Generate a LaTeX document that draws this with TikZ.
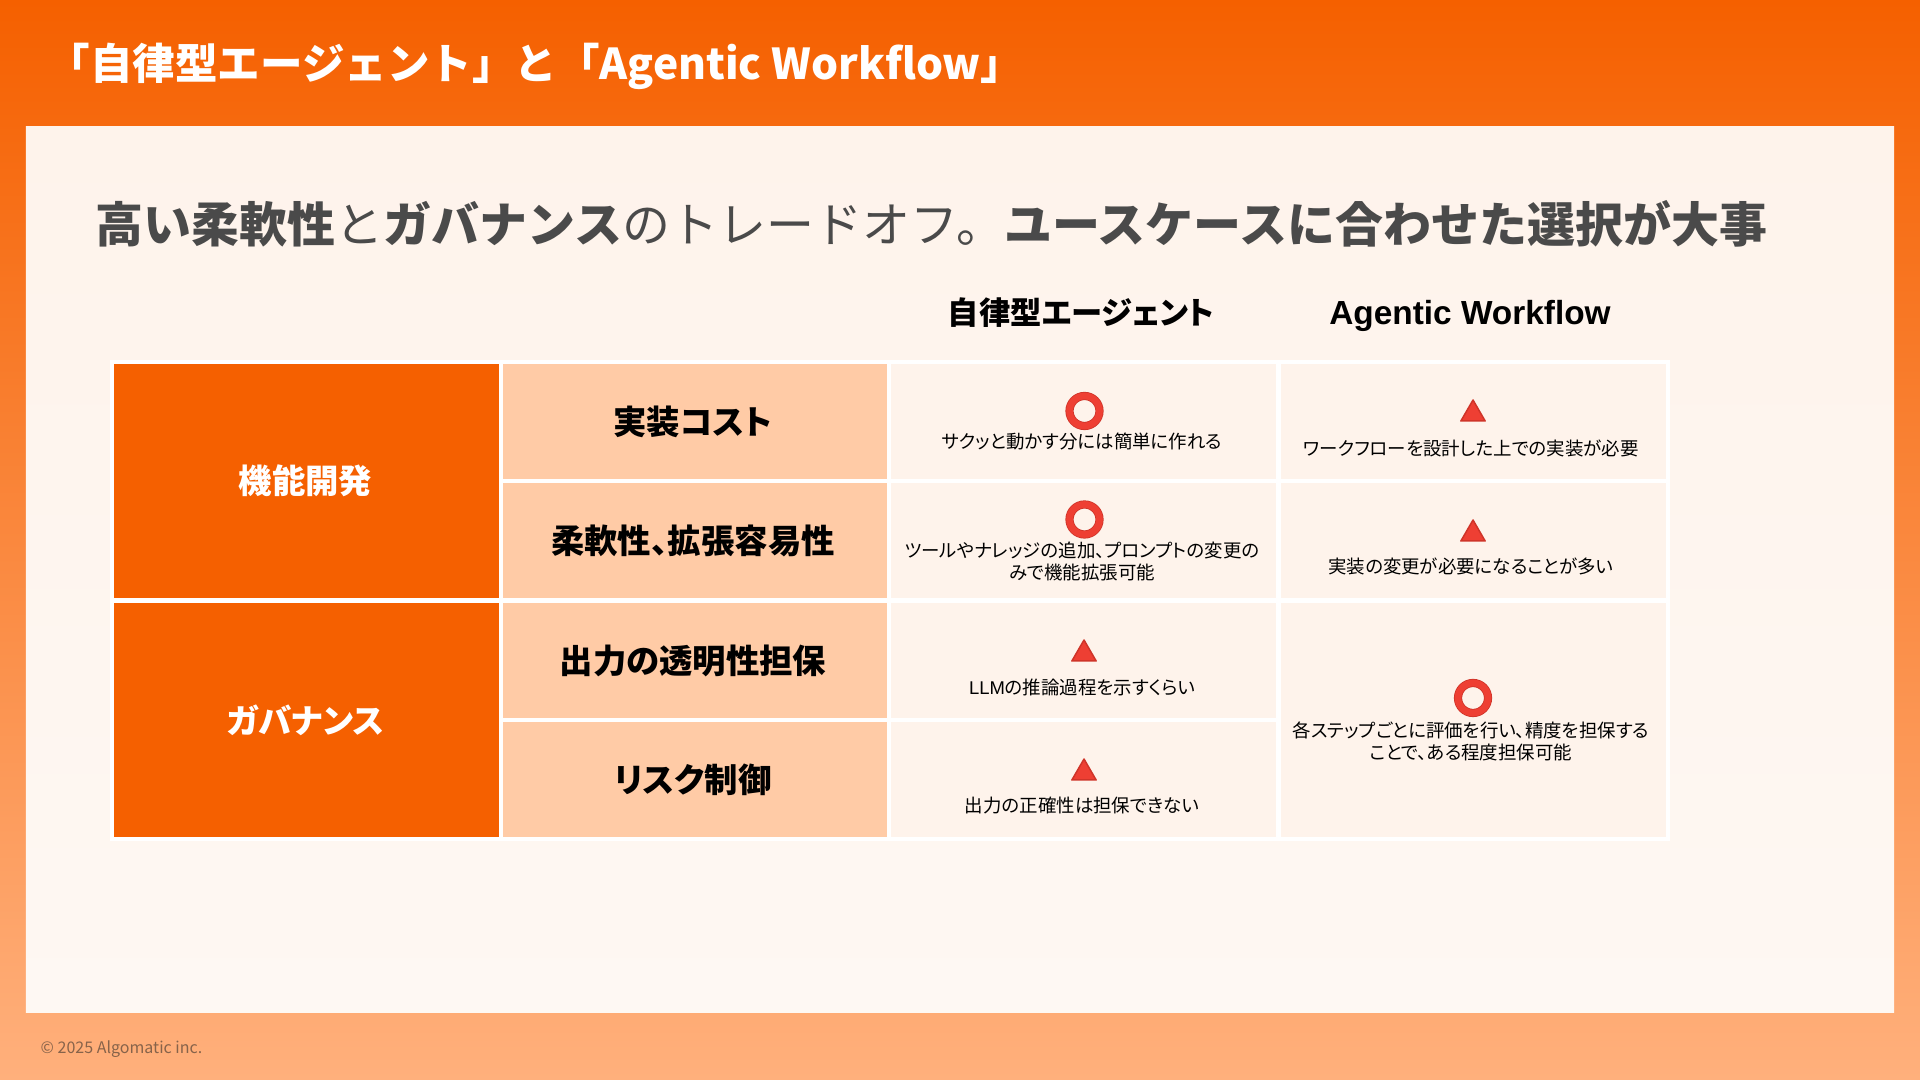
\documentclass[tikz,border=0pt]{standalone}
\usepackage{xcolor}
\usepackage{fontspec}
\usepackage{tikz}
\usetikzlibrary{shapes.geometric}
\setmainfont{Noto Sans CJK JP}
\newfontfamily\paltfont[RawFeature=+palt]{Noto Sans CJK JP}
\newfontfamily\headfont{Liberation Sans}
\definecolor{brandorange}{HTML}{F56000}
\definecolor{brandlight}{HTML}{FFB07C}
\definecolor{panelcolor}{HTML}{FEF3EB}
\definecolor{labelcolor}{HTML}{FFCBA6}
\definecolor{markred}{HTML}{EE3F33}
\definecolor{markedge}{HTML}{CF3429}
\definecolor{subgray}{HTML}{4A4A4A}
\definecolor{footcolor}{HTML}{87634A}
\tikzset{
  catcell/.style={fill=brandorange,text=white,minimum width=3.85cm,minimum height=2.34cm,inner sep=0,
    font=\paltfont\fontsize{9.5}{11}\selectfont\bfseries},
  labelcell/.style={fill=labelcolor,text=black,minimum width=3.84cm,minimum height=1.15cm,inner sep=0,
    font=\paltfont\fontsize{9.5}{11}\selectfont\bfseries},
  bodycell/.style={fill=panelcolor,minimum width=3.85cm,minimum height=1.15cm,inner sep=0},
  bodytext/.style={inner sep=0,align=center,text=black,font=\paltfont\fontsize{5.25}{6.26}\selectfont},
  ringmark/.style={circle,draw=markedge,double=markred,line width=.008cm,double distance=.066cm,
    minimum size=.30cm,inner sep=0,outer sep=0},
  trimark/.style={regular polygon,regular polygon sides=3,fill=markred,draw=markedge,line width=.015cm,
    line join=round,minimum size=.28cm,inner sep=0,outer sep=0},
}
\begin{document}
\begin{tikzpicture}
        \useasboundingbox (0,0) rectangle (19.2,10.8);
        % background
        \shade[top color=brandorange,bottom color=brandlight] (0,0) rectangle (19.2,10.8);
        \shade[top color=panelcolor,bottom color=panelcolor!60!white] (0.26,0.67) rectangle (18.94,9.53);
        % title lines
        \node[anchor=west,inner sep=0,text=white,font=\fontsize{12.1}{14}\selectfont\bfseries] (title) at (0.47,10.14)
                {「自律型エージェント」と「Agentic Workflow」};
        \node[anchor=west,inner sep=0,text=subgray,font=\fontsize{13.65}{16}\selectfont] (subtitle) at (0.95,8.56)
                {\textbf{高い柔軟性}と\textbf{ガバナンス}のトレードオフ。\textbf{ユースケースに合わせた選択が大事}};
        % column heads
        \node[inner sep=0,font=\paltfont\fontsize{8.9}{10}\selectfont\bfseries] (headagent) at (10.81,7.67) {自律型エージェント};
        \node[inner sep=0,font=\headfont\fontsize{9.5}{10}\selectfont\bfseries] (headflow) at (14.70,7.645) {Agentic Workflow};
        % table
        \fill[white] (1.10,2.39) rectangle (16.70,7.20);
        \node[catcell] (catdev) at (3.065,5.99) {\hspace{-.02cm}機能開発};
        \node[catcell] (catgov) at (3.065,3.60) {\hspace{-.02cm}ガバナンス};
        \foreach \name/\y/\txt in {cost/6.585/実装コスト,flex/5.395/柔軟性、拡張容易性,clear/4.195/出力の透明性担保,risk/3.005/リスク制御}
        {
                \node[labelcell] (label\name) at (6.95,\y) {\hspace{-.04cm}\txt};
                \node[bodycell] (agent\name) at (10.835,\y) {};
        };
        \node[bodycell] (flowcost) at (14.735,6.585) {};
        \node[bodycell] (flowflex) at (14.735,5.395) {};
        \node[bodycell,minimum height=2.34cm] (flowgov) at (14.735,3.60) {};
        % marks
        \foreach \name/\x/\y in {a/10.845/6.69,b/10.845/5.605,c/14.73/3.82}
                \node[ringmark] (ring\name) at (\x,\y) {};
        \foreach \name/\x/\y in {a/14.73/6.66,b/14.73/5.46,c/10.84/4.26,d/10.84/3.07}
                \node[trimark] (tri\name) at (\x,\y) {};
        % cell texts
        \node[bodytext] (textcost) at (10.82,6.38) {サクッと動かす分には簡単に作れる};
        \node[bodytext] (textflex) at (10.82,5.185) {ツールやナレッジの追加、プロンプトの変更の\\みで機能拡張可能};
        \node[bodytext] (textclear) at (10.82,3.93) {{\headfont LLM}の推論過程を示すくらい};
        \node[bodytext] (textrisk) at (10.82,2.74) {出力の正確性は担保できない};
        \node[bodytext] (textwork) at (14.71,6.32) {ワークフローを設計した上での実装が必要};
        \node[bodytext] (textchange) at (14.71,5.135) {実装の変更が必要になることが多い};
        \node[bodytext] (textstep) at (14.71,3.39) {各ステップごとに評価を行い、精度を担保する\\ことで、ある程度担保可能};
        % footer
        \node[anchor=west,inner sep=0,text=footcolor,font=\fontsize{4.56}{6}\selectfont] (copyright) at (0.40,0.305) {© 2025 Algomatic inc.};
\end{tikzpicture}
\end{document}
